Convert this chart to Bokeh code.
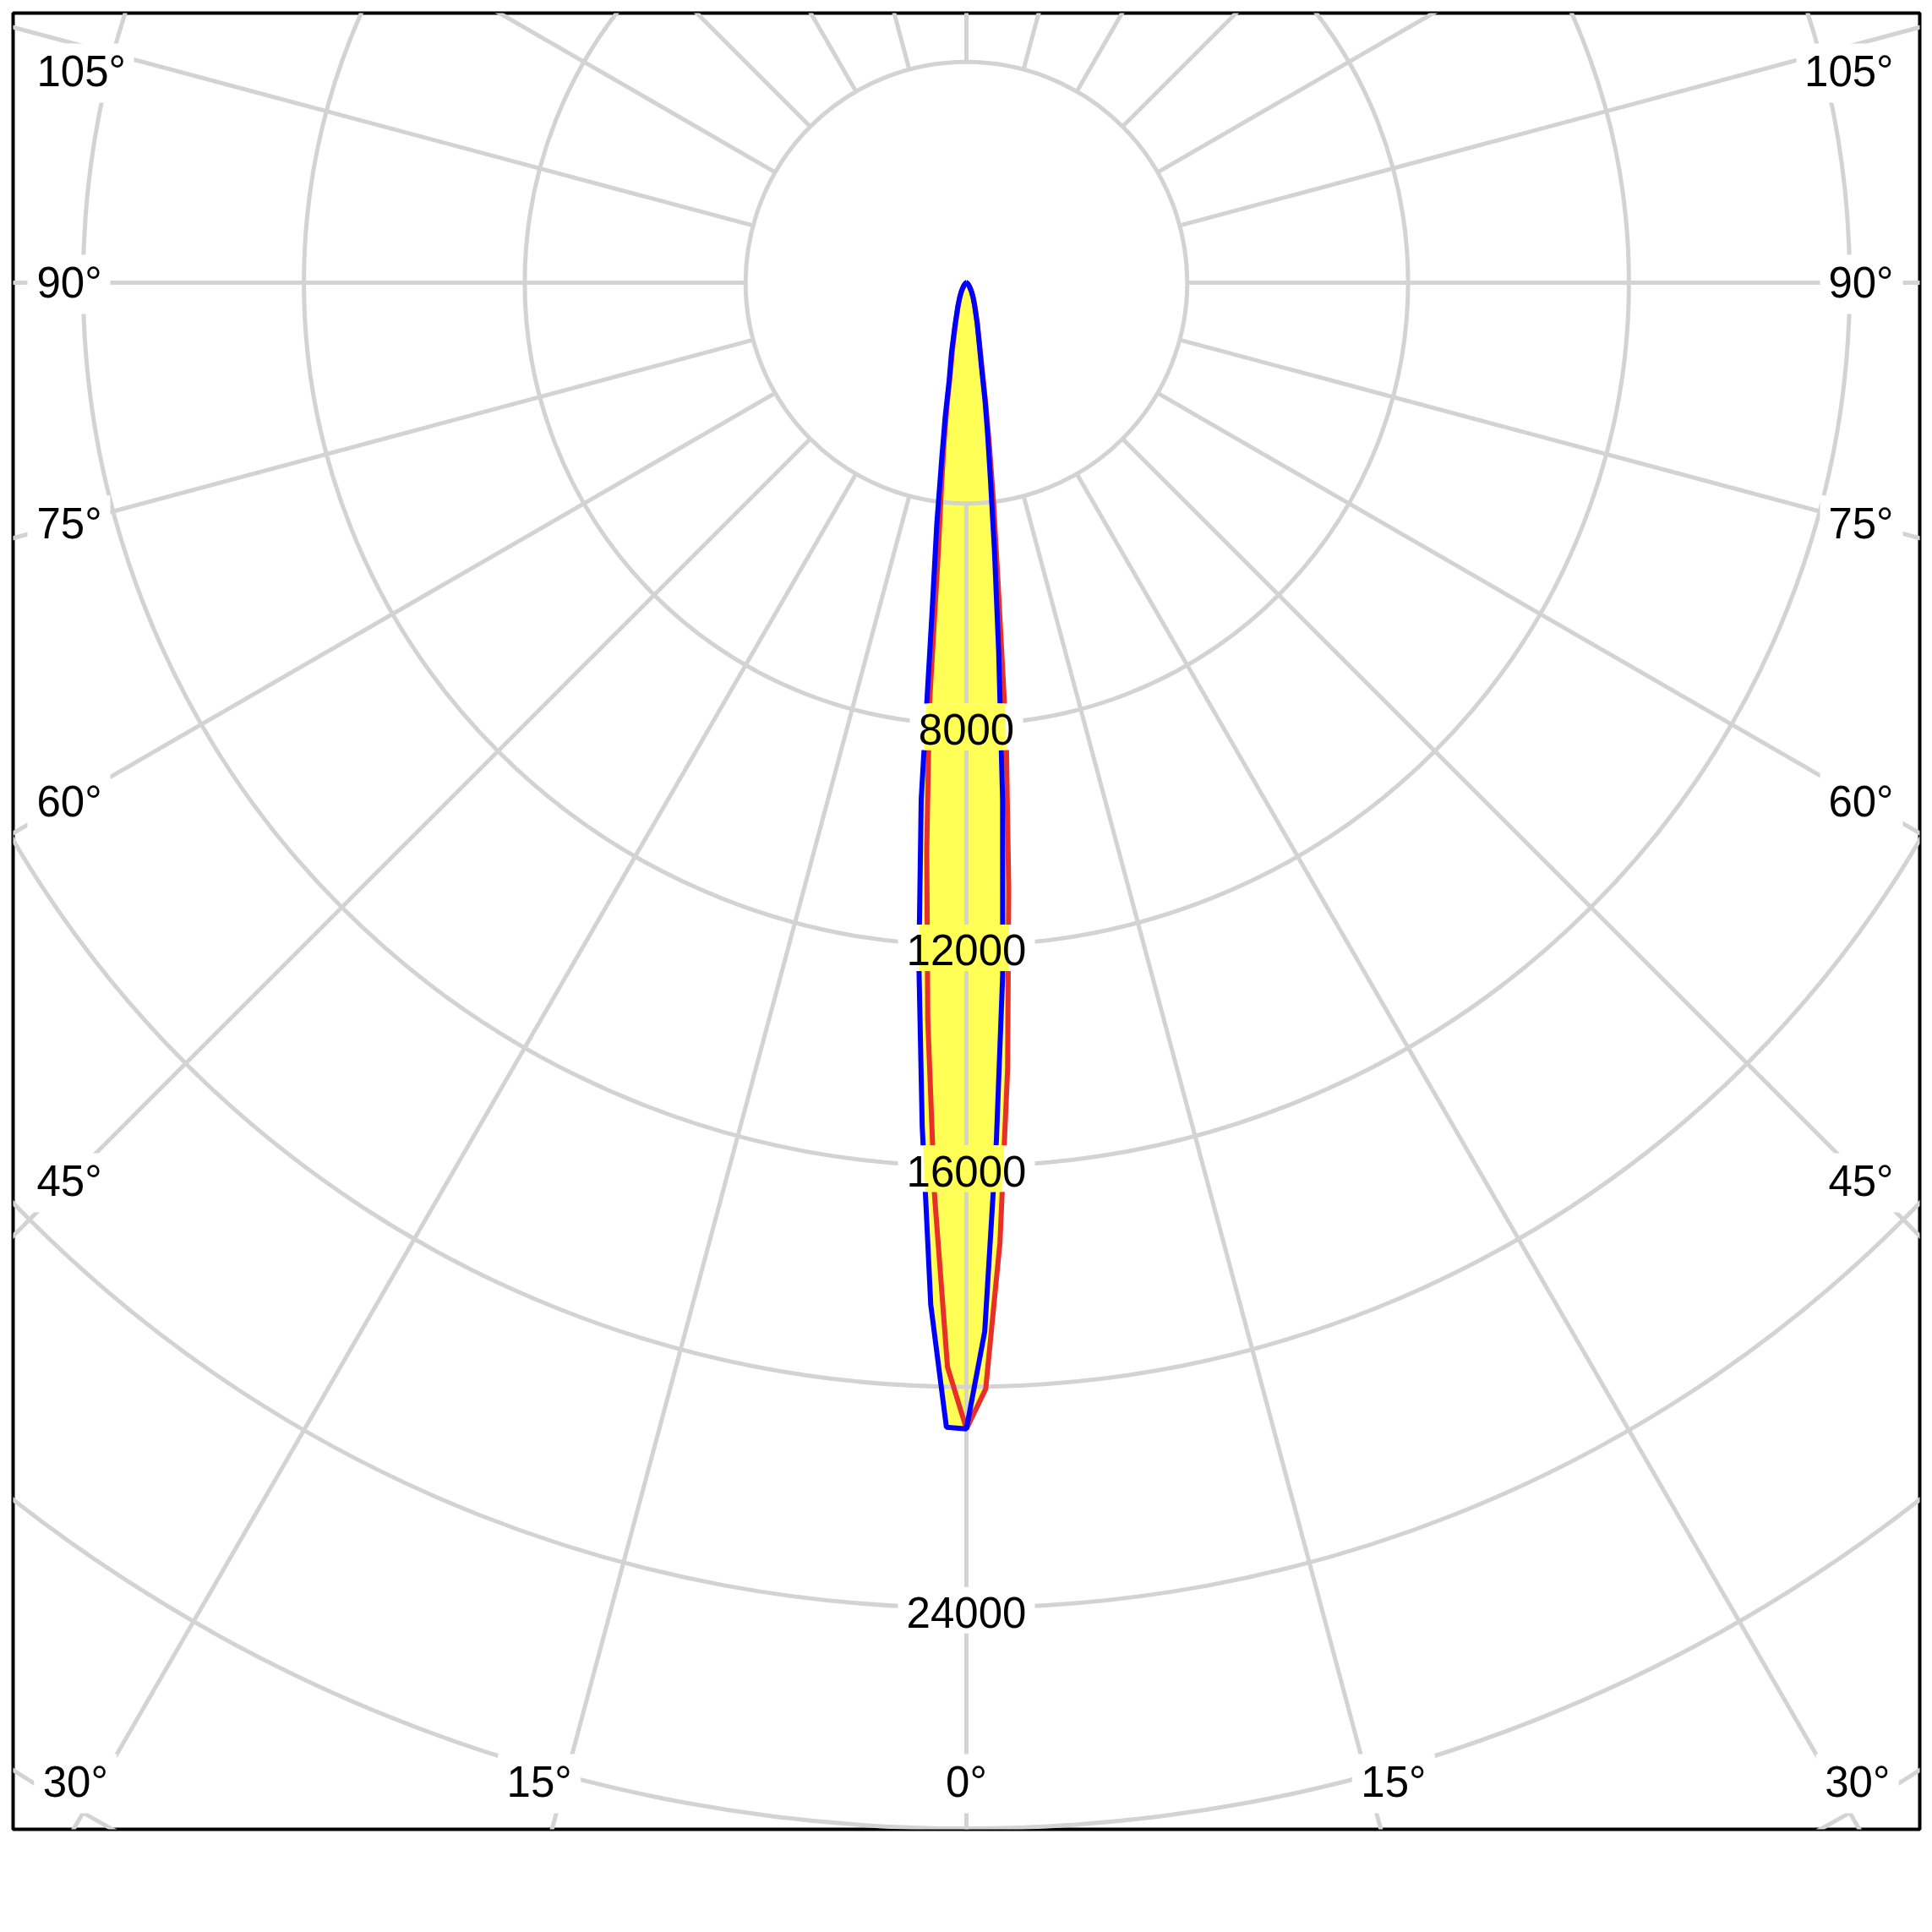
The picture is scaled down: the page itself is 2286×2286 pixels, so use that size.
import math
from bokeh.plotting import figure
from bokeh.core.properties import value
from bokeh.embed import file_html
from bokeh.resources import INLINE

# ---------------- data (candela values) ----------------
angles = [0, 1, 2, 3, 4, 5, 6, 7, 8, 9, 10, 12, 15, 20, 25, 30, 40, 50, 60, 70, 80, 90]
# red curve (C0 / C180 plane)
c0 = [20760, 20040, 17400, 14260, 10980, 8280, 5500, 4050, 3000, 2250, 1700, 1150, 760, 440, 280, 180, 80, 35, 15, 5, 2, 0]
c180 = [20760, 19640, 16540, 13370, 10300, 7700, 4850, 3700, 2900, 2250, 1700, 1200, 760, 440, 280, 180, 80, 35, 15, 5, 2, 0]
# blue curve (C90 / C270 plane)
c90 = [20760, 19000, 15550, 12550, 9400, 6700, 4850, 3550, 2750, 2150, 1600, 1100, 750, 430, 280, 180, 80, 35, 15, 5, 2, 0]
c270 = [20760, 20735, 18520, 15300, 12350, 9400, 5900, 4400, 3200, 2450, 1800, 1300, 800, 450, 280, 180, 80, 35, 15, 5, 2, 0]

ring_values = [4000, 8000, 12000, 16000, 20000, 24000, 28000, 32000, 36000]
ring_label_values = [8000, 12000, 16000, 24000]
ring_labels = ["8000", "12000", "16000", "24000"]
spoke_angles = list(range(0, 360, 15))
angle_label_values = [0, 15, 30, 45, 60, 75, 90, 105]

# ---------------- geometry ----------------
PX = 4000 / 261.3          # candela per screen pixel
FW, FH = 2256, 2149
HALF_W = 1128
TOP, BOT = 319, 1830

FONT = value("Liberation Sans")
FSIZE = "51px"
GRID = "#d3d3d3"
YELLOW = "#ffff55"
RED = "#e8302a"
BLUE = "#0000ff"

p = figure(width=FW + 22, height=FH + 22,
           x_range=(-HALF_W * PX, HALF_W * PX), y_range=(-BOT * PX, TOP * PX),
           x_axis_location=None, y_axis_location=None,
           toolbar_location=None, output_backend="svg",
           min_border_left=15, min_border_right=7, min_border_top=15, min_border_bottom=7)
p.grid.visible = False
p.outline_line_color = "black"
p.outline_line_width = 4
p.background_fill_color = "white"
p.border_fill_color = "white"


def polygon(left, right):
    xs, ys = [], []
    for a, v in reversed(list(zip(angles, left))):
        t = math.radians(a)
        xs.append(-v * math.sin(t))
        ys.append(-v * math.cos(t))
    for a, v in list(zip(angles, right))[1:]:
        t = math.radians(a)
        xs.append(v * math.sin(t))
        ys.append(-v * math.cos(t))
    return xs, ys


red_x, red_y = polygon(c180, c0)
blue_x, blue_y = polygon(c270, c90)

# yellow fill (union of both planes)
p.patch(red_x, red_y, fill_color=YELLOW, line_color=None)
p.patch(blue_x, blue_y, fill_color=YELLOW, line_color=None)

# grid: rings and spokes
p.circle(x=[0] * len(ring_values), y=[0] * len(ring_values), radius=ring_values,
         fill_color=None, line_color=GRID, line_width=5)
sx, sy = [], []
for a in spoke_angles:
    t = math.radians(a)
    sx.append([4000 * math.sin(t), 45000 * math.sin(t)])
    sy.append([-4000 * math.cos(t), -45000 * math.cos(t)])
p.multi_line(sx, sy, line_color=GRID, line_width=5)

# curves
p.line(red_x + [red_x[0]], red_y + [red_y[0]], line_color=RED, line_width=6)
p.line(blue_x + [blue_x[0]], blue_y + [blue_y[0]], line_color=BLUE, line_width=6)


def adv(s):
    return sum(20.0 if ch == "°" else 28.0 for ch in s)


# ---------------- label boxes ----------------
def clip(poly, xmin, xmax, ymin, ymax):
    def clip_edge(pts, inside, inter):
        out = []
        n = len(pts)
        for i in range(n):
            cur, prev = pts[i], pts[i - 1]
            if inside(cur):
                if not inside(prev):
                    out.append(inter(prev, cur))
                out.append(cur)
            elif inside(prev):
                out.append(inter(prev, cur))
        return out

    def ix(xc):
        def f(a, b):
            t = (xc - a[0]) / (b[0] - a[0])
            return (xc, a[1] + t * (b[1] - a[1]))
        return f

    def iy(yc):
        def f(a, b):
            t = (yc - a[1]) / (b[1] - a[1])
            return (a[0] + t * (b[0] - a[0]), yc)
        return f

    pts = poly
    for inside, inter in [(lambda q: q[0] >= xmin, ix(xmin)), (lambda q: q[0] <= xmax, ix(xmax)),
                          (lambda q: q[1] >= ymin, iy(ymin)), (lambda q: q[1] <= ymax, iy(ymax))]:
        if not pts:
            break
        pts = clip_edge(pts, inside, inter)
    return pts


# ring label boxes
rb_x, rb_y, rb_w, rb_h = [], [], [], []
rt_x, rt_y = [], []
for v, s in zip(ring_label_values, ring_labels):
    w = adv(s) + 22
    h = 55
    cy = -v - 3 * PX
    rb_x.append(0.0); rb_y.append(cy); rb_w.append(w); rb_h.append(h)
    rt_x.append(0.0); rt_y.append(-v - 6 * PX)

# angle labels
al_x, al_y, al_t, al_align = [], [], [], []
ab_x, ab_y, ab_w = [], [], []
for a in angle_label_values:
    for side in (-1, 1):
        if a == 0 and side == 1:
            continue
        t = math.radians(a)
        sa, ca = math.sin(t), math.cos(t)
        s = f"{a}°"
        A = adv(s)
        if ca > 1e-9 and 1774 * sa / ca < 1063:
            dx = side * (1774 * sa / ca + (30 if a > 0 else 0))
            dy = 1774
            align = "center"
            bcx = dx
        else:
            dy = min(max(1063 * ca / sa, -250), 1774)
            if side < 0:
                dx = -1100
                align = "left"
                bcx = dx + A / 2
            else:
                dx = 1097
                align = "right"
                bcx = dx - A / 2
        al_x.append(dx * PX); al_y.append(-dy * PX); al_t.append(s); al_align.append(align)
        ab_x.append(bcx * PX); ab_y.append(-(dy + 2) * PX); ab_w.append(A + 22)

p.rect(x=ab_x, y=ab_y, width=ab_w, height=70, width_units="screen", height_units="screen",
       fill_color="white", line_color=None)
p.rect(x=rb_x, y=rb_y, width=rb_w, height=rb_h, width_units="screen", height_units="screen",
       fill_color="white", line_color=None)

# yellow beam visible through the ring label boxes
cx_list, cy_list = [], []
for bx, by, bw, bh in zip(rb_x, rb_y, rb_w, rb_h):
    for px_, py_ in ((red_x, red_y), (blue_x, blue_y)):
        pts = clip(list(zip(px_, py_)), bx - bw / 2 * PX, bx + bw / 2 * PX,
                   by - bh / 2 * PX, by + bh / 2 * PX)
        if len(pts) >= 3:
            cx_list.append([q[0] for q in pts])
            cy_list.append([q[1] for q in pts])
if cx_list:
    p.patches(cx_list, cy_list, fill_color=YELLOW, line_color=None)

p.text(x=rt_x, y=rt_y, text=ring_labels, text_font=FONT, text_font_size=FSIZE,
       text_align="center", text_baseline="middle", text_color="black")

for align in ("left", "right", "center"):
    idx = [i for i, al in enumerate(al_align) if al == align]
    if idx:
        p.text(x=[al_x[i] for i in idx], y=[al_y[i] for i in idx], text=[al_t[i] for i in idx],
               text_font=FONT, text_font_size=FSIZE, text_align=align, text_baseline="middle",
               text_color="black")

open("out.html", "w").write(file_html(p, INLINE))
